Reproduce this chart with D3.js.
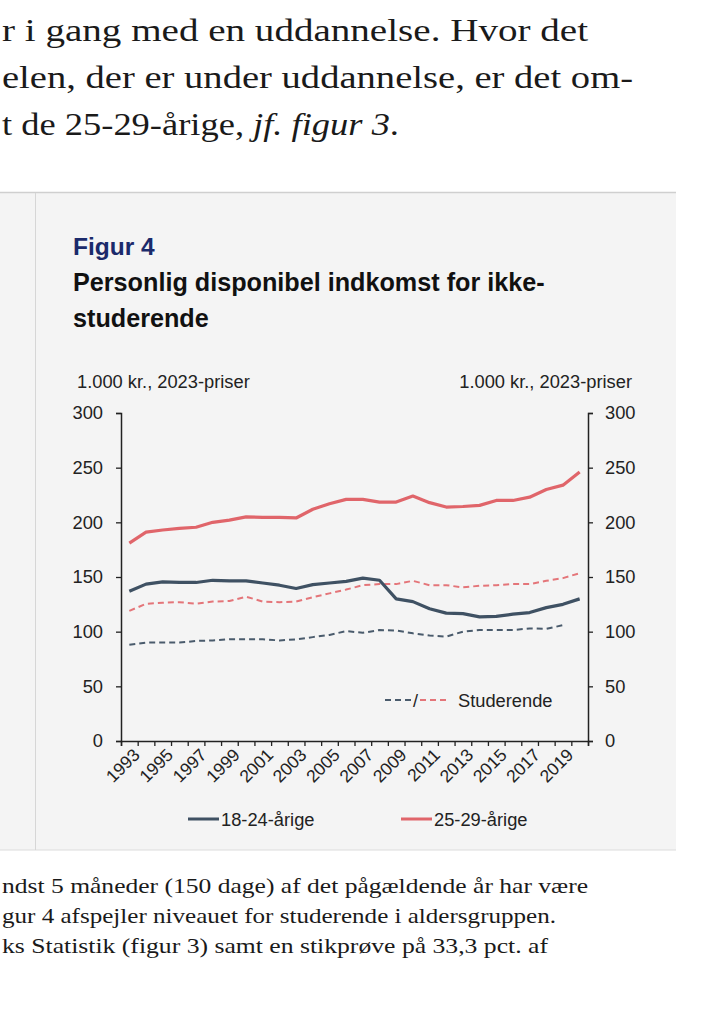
<!DOCTYPE html>
<html>
<head>
<meta charset="utf-8">
<script src="https://cdn.jsdelivr.net/npm/d3@7"></script>
<style>
  body { margin: 0; background: #fff; }
  svg { display: block; }
</style>
</head>
<body>
<div id="container"><svg></svg></div>
<script>
let width = 702, height = 1024;

// data (1.000 kr., 2023-priser)
let years = d3.range(1993, 2021);
let yngre = [137, 143.5, 145.5, 145, 145, 147, 146.5, 146.5, 144.5, 142.5, 139.5, 143, 144.5, 146,
             149, 147, 130, 127.5, 121, 117, 116.5, 113.5, 114, 116, 117.5, 122, 125, 130];
let aeldre = [181, 191, 193, 194.5, 195.5, 200, 202, 205, 204.5, 204.5, 204, 212, 217, 221,
              221, 218.5, 218.5, 224, 218, 214, 214.5, 215.5, 220, 220, 223, 230, 234, 246];
let yngreStud = [88, 90, 90, 90, 91.5, 92, 93, 93, 93, 92, 93, 95, 97, 100.5,
                 99, 101.5, 101, 98.5, 96.5, 95.5, 100, 101.5, 101.5, 101.5, 103, 102.5, 106];
let aeldreStud = [119, 125.5, 126.5, 127, 125.5, 127.5, 128, 132, 127.5, 127, 127.5, 131.5, 135, 138.5,
                  142.5, 143.5, 143.5, 146.5, 142.5, 142.5, 140.5, 142, 142.5, 143.5, 143.5, 146.5, 149, 153.5];
let yTicks = [0, 50, 100, 150, 200, 250, 300];
let xLabels = d3.range(1993, 2020, 2);

let blue = '#3f5163', red = '#e0656a';
let blueDash = '#4a5b6c', redDash = '#e47579';

// page text around the figure
let topLines = [
    {t: 'r i gang med en uddannelse. Hvor det', y: 41, w: 586},
    {t: 'elen, der er under uddannelse, er det om-', y: 88, w: 631},
    {t: 't de 25-29-årige, ', it: 'jf. figur 3', end: '.', y: 135, w: 397}
];
let bottomLines = [
    {t: 'ndst 5 måneder (150 dage) af det pågældende år har være', y: 893, w: 586},
    {t: 'gur 4 afspejler niveauet for studerende i aldersgruppen.', y: 923, w: 554},
    {t: 'ks Statistik (figur 3) samt en stikprøve på 33,3 pct. af', y: 953, w: 546}
];

function draw_page(svg) {
    svg.append('rect').attr('width', width).attr('height', height).attr('fill', '#fff');

    // grey panel
    svg.append('rect').attr('x', 0).attr('y', 192).attr('width', 676).attr('height', 658)
        .attr('fill', '#f4f4f4');
    svg.append('line').attr('x1', 0).attr('x2', 676).attr('y1', 192.5).attr('y2', 192.5)
        .attr('stroke', '#cfcfcf').attr('stroke-width', 1.5);
    svg.append('line').attr('x1', 0).attr('x2', 676).attr('y1', 850).attr('y2', 850)
        .attr('stroke', '#dcdcdc').attr('stroke-width', 1);
    svg.append('line').attr('x1', 35.5).attr('x2', 35.5).attr('y1', 193).attr('y2', 850)
        .attr('stroke', '#d6d6d6').attr('stroke-width', 1);

    let serif = "'Liberation Serif', 'Times New Roman', Times, serif";
    topLines.forEach(d => {
        let t = svg.append('text').attr('x', 2).attr('y', d.y)
            .attr('font-family', serif).attr('font-size', 31).attr('fill', '#1a1a1a')
            .attr('textLength', d.w).attr('lengthAdjust', 'spacingAndGlyphs');
        t.append('tspan').text(d.t);
        if (d.it) {
            t.append('tspan').attr('font-style', 'italic').text(d.it);
            t.append('tspan').text(d.end);
        }
    });
    bottomLines.forEach(d => {
        svg.append('text').attr('x', 2).attr('y', d.y)
            .attr('font-family', serif).attr('font-size', 21).attr('fill', '#1a1a1a')
            .attr('textLength', d.w).attr('lengthAdjust', 'spacingAndGlyphs')
            .text(d.t);
    });
}

function draw_chart(svg) {
    let sans = "'Liberation Sans', Arial, sans-serif";
    let left = 121, right = 588, top = 413, bottom = 741;

    let x = d3.scaleLinear().domain([1992.5, 2020.5]).range([left, right]);
    let y = d3.scaleLinear().domain([0, 300]).range([bottom, top]);

    let g = svg.append('g').attr('font-family', sans);

    g.append('text').attr('x', 73).attr('y', 255).attr('font-size', 24.5).attr('font-weight', 'bold')
        .attr('fill', '#1b2a6b').text('Figur 4');
    g.append('text').attr('x', 73).attr('y', 291).attr('font-size', 25.2).attr('font-weight', 'bold')
        .attr('fill', '#111').text('Personlig disponibel indkomst for ikke-');
    g.append('text').attr('x', 73).attr('y', 327).attr('font-size', 25.2).attr('font-weight', 'bold')
        .attr('fill', '#111').text('studerende');

    g.append('text').attr('x', 77).attr('y', 388).attr('font-size', 18.3).attr('fill', '#222')
        .text('1.000 kr., 2023-priser');
    g.append('text').attr('x', 632).attr('y', 388).attr('font-size', 18.3).attr('fill', '#222')
        .attr('text-anchor', 'end').text('1.000 kr., 2023-priser');

    // axes
    let yl = g.append('g').attr('transform', `translate(${left},0)`)
        .call(d3.axisLeft(y).tickValues(yTicks).tickSize(5).tickPadding(13));
    let yr = g.append('g').attr('transform', `translate(${right},0)`)
        .call(d3.axisRight(y).tickValues(yTicks).tickSize(5).tickPadding(12));
    let xt = g.append('g').attr('transform', `translate(0,${bottom})`)
        .call(d3.axisBottom(x).tickValues(d3.range(1992.5, 2021, 1)).tickSize(5).tickFormat(''));
    let xl = g.append('g').attr('transform', `translate(0,${bottom})`)
        .call(d3.axisBottom(x).tickValues(xLabels).tickSize(0).tickFormat(d3.format('d')));
    xl.select('.domain').remove();

    [yl, yr, xt, xl].forEach(a => {
        a.selectAll('.domain').attr('stroke', '#222').attr('stroke-width', 1.5);
        a.selectAll('.tick line').attr('stroke', '#222').attr('stroke-width', 1.3);
        a.selectAll('text').attr('font-family', sans).attr('font-size', 18.3).attr('fill', '#222');
    });
    xl.selectAll('text')
        .attr('font-size', 17.5)
        .attr('text-anchor', 'end')
        .attr('y', 0).attr('dy', 0)
        .attr('transform', 'translate(11,15) rotate(-45)');

    // lines
    let line = d3.line().x((d, i) => x(years[i])).y(d => y(d)).curve(d3.curveLinear);
    let series = [
        {v: yngreStud, c: blueDash, w: 2, dash: '6,4'},
        {v: aeldreStud, c: redDash, w: 2, dash: '6,4'},
        {v: yngre, c: blue, w: 3.2, dash: null},
        {v: aeldre, c: red, w: 3.2, dash: null}
    ];
    g.selectAll('path.serie').data(series).join('path')
        .attr('class', 'serie')
        .attr('d', d => line(d.v))
        .attr('fill', 'none')
        .attr('stroke', d => d.c)
        .attr('stroke-width', d => d.w)
        .attr('stroke-dasharray', d => d.dash)
        .attr('stroke-linejoin', 'round');

    // legend inside the plot
    g.append('line').attr('x1', 385).attr('x2', 413).attr('y1', 700).attr('y2', 700)
        .attr('stroke', blueDash).attr('stroke-width', 2).attr('stroke-dasharray', '6,4');
    g.append('text').attr('x', 413).attr('y', 707).attr('font-size', 18).attr('fill', '#222').text('/');
    g.append('line').attr('x1', 420).attr('x2', 450).attr('y1', 700).attr('y2', 700)
        .attr('stroke', redDash).attr('stroke-width', 2).attr('stroke-dasharray', '6,4');
    g.append('text').attr('x', 458).attr('y', 707).attr('font-size', 18.3).attr('fill', '#222').text('Studerende');

    // legend below
    let leg = [
        {x: 188, c: blue, t: '18-24-årige'},
        {x: 401, c: red, t: '25-29-årige'}
    ];
    leg.forEach(d => {
        g.append('line').attr('x1', d.x).attr('x2', d.x + 31).attr('y1', 819).attr('y2', 819)
            .attr('stroke', d.c).attr('stroke-width', 3);
        g.append('text').attr('x', d.x + 33).attr('y', 826).attr('font-size', 18.3)
            .attr('fill', '#222').text(d.t);
    });
}

let svg = d3.select('#container').select('svg').attr('width', width).attr('height', height);
draw_page(svg);
draw_chart(svg);
</script>
</body>
</html>
